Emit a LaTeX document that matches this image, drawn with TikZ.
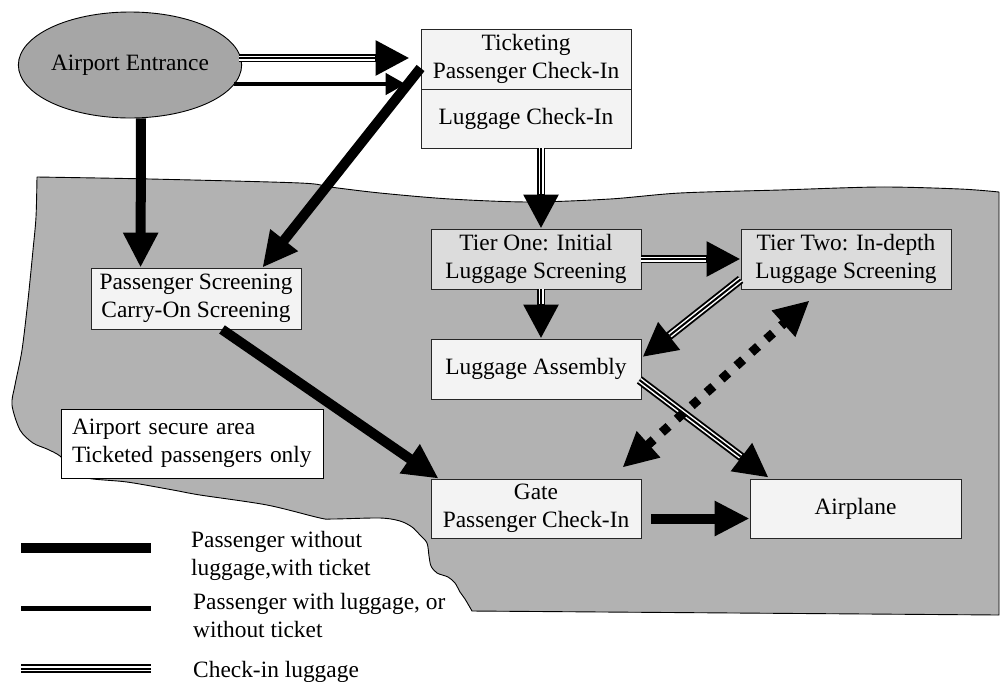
\documentclass[tikz,border=0pt]{standalone}
\usepackage{fontspec}
\setmainfont{Liberation Serif}
\usetikzlibrary{arrows.meta,calc,shapes.geometric}
\definecolor{areagray}{HTML}{B2B2B2}
\definecolor{entgray}{HTML}{A6A6A6}
\definecolor{boxfill}{HTML}{F3F3F3}
\definecolor{tierfill}{HTML}{DCDCDC}
\begin{document}
\begin{tikzpicture}[x=1pt,y=-1pt,
  txt/.style={font=\fontsize{23.4}{28}\selectfont},
  box/.style={txt, draw=black!85, line width=0.9pt, fill=boxfill, inner sep=0pt,
     minimum width=210pt, minimum height=60pt, align=center},
  tier/.style={box, fill=tierfill},
  thickarr/.style={line width=10pt, -{Triangle[length=35pt,width=33pt]}},
  medarr/.style={line width=4.6pt, -{Triangle[length=20pt,width=21pt]}},
  trip/.style={line width=8.8pt,
     postaction={draw=white, line width=5pt, -, shorten >=#1},
     postaction={draw=black, line width=2pt, -, shorten >=#1}},
  trip/.default=0pt,
  triparr/.style={trip=35pt, -{Triangle[length=34pt,width=33pt]}},
  dotarr/.style={line width=9pt, dash pattern=on 9pt off 11pt,
     {Triangle[length=35pt,width=33pt]}-{Triangle[length=35pt,width=33pt]}}
]
\useasboundingbox (0,0) rectangle (1000,681);

% secure area
\draw[fill=areagray, line width=0.9pt, line join=round]
  plot[smooth, tension=0.5] coordinates {(37,177) (150,179) (300,183) (330,187) (380,193) (450,199) (530,202) (610,199) (680,193) (780,190) (880,187) (960,189) (999,192)}
  -- (999,615) -- (472,611)
  -- plot[smooth, tension=0.5] coordinates {(472,611) (465,599) (460,592) (455,583) (448,577) (437,573) (431,566) (429,556) (427,543) (420,535) (412,527) (400,521) (380,518) (333,519) (320,518) (267,505) (200,495) (173,490) (127,482) (87,478) (70,468) (60,456) (47,449) (33,443) (20,430) (12,405) (15,385) (22,350) (28,300) (33,250) (36,217) (37,177)}
  -- cycle;

% nodes
\node[txt, ellipse, draw=black, line width=0.9pt, fill=entgray, minimum width=220pt, minimum height=106pt, inner sep=0pt] (ent) at (130,65) {Airport Entrance};
\node[box] (tick1) at (526,59) {Ticketing\\Passenger Check-In};
\node[box, minimum height=59pt] (tick2) at (526,118.5) {Luggage Check-In};
\node[box, minimum height=61pt] (scr) at (196,298.5) {Passenger Screening\\Carry-On Screening};
\node[tier] (t1) at (536,259) {Tier One: Initial\\Luggage Screening};
\node[tier] (t2) at (846,259) {Tier Two: In-depth\\Luggage Screening};
\node[box] (la) at (536,369) {Luggage Assembly};
\node[box, minimum height=59pt] (gate) at (536,508.5) {Gate\\Passenger Check-In};
\node[box, minimum width=211pt, minimum height=59pt] (air) at (855.5,508.5) {Airplane};
\node[txt, draw=black, line width=0.9pt, fill=white, inner xsep=11pt, inner ysep=0pt,
  text width=240pt, minimum height=69pt, align=left] (sec) at (192,443.5)
  {Airport secure area\\Ticketed passengers only};

% connectors
\draw[triparr] ($(ent.center)+(109,-7)$) -- ($(tick1.west)+(-11,-1)$);
\draw[medarr] ($(ent.center)+(104,19)$) -- ($(tick1.west)+(-15,25)$);
\draw[thickarr] ($(ent.south)+(11,0)$) -- ($(scr.north west)+(50,0)$);
\draw[thickarr] ($(tick1.west)+(0,9)$) -- ($(scr.north east)+(-39,0)$);
\draw[thickarr] ($(scr.south)+(26,0)$) -- ($(gate.north west)+(8,0)$);
\draw[thickarr] ($(gate.east)+(10,10)$) -- ($(air.west)+(0,10)$);
\draw[triparr] ($(tick2.south)+(15,0)$) -- ($(t1.north)+(5,0)$);
\draw[triparr] ($(t1.south)+(5,0)$) -- ($(la.north)+(5,0)$);
\draw[triparr] (t1.east) -- (t2.west);
\draw[triparr] ($(t2.south west)+(0,-10)$) -- ($(la.east)+(1,-12)$);
\draw[triparr] ($(la.east)+(-2,11)$) -- ($(air.north west)+(19,-1)$);
\draw[dotarr] ($(gate.north east)+(-19,-11)$) -- ($(t2.south west)+(69,11)$);

% legend
\coordinate (k1a) at (21,548); \coordinate (k1b) at (151,548);
\coordinate (k2a) at (21,608.5); \coordinate (k2b) at (151,608.5);
\coordinate (k3a) at (21,668.5); \coordinate (k3b) at (151,668.5);
\draw[line width=10pt] (k1a) -- (k1b);
\draw[line width=4.7pt] (k2a) -- (k2b);
\draw[trip] (k3a) -- (k3b);
\node[txt, anchor=base west, inner sep=0pt] (lg1) at (191,547) {Passenger without};
\node[txt, anchor=base west, inner sep=0pt] (lg2) at (191,575) {luggage,with ticket};
\node[txt, anchor=base west, inner sep=0pt] (lg3) at (193,609) {Passenger with luggage, or};
\node[txt, anchor=base west, inner sep=0pt] (lg4) at (193,637) {without ticket};
\node[txt, anchor=base west, inner sep=0pt] (lg5) at (193,677) {Check-in luggage};
\end{tikzpicture}
\end{document}
